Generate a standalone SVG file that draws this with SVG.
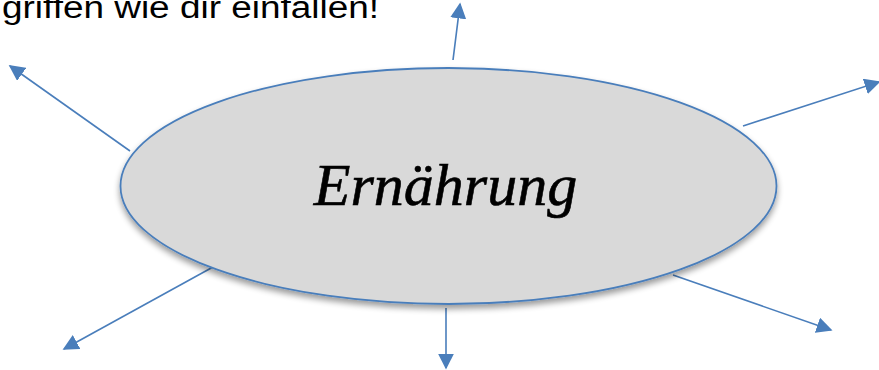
<svg xmlns="http://www.w3.org/2000/svg" width="879" height="370" viewBox="0 0 879 370">
<defs>
<style>
.c{stroke:#4a7ebb;stroke-width:1.6;fill:none;marker-end:url(#ah)}
</style>
<marker id="ah" viewBox="0 0 10 10" refX="9" refY="5" markerWidth="10" markerHeight="10" orient="auto"><path d="M0,0 L10,5 L0,10 z" fill="#4a7ebb"/></marker>
<filter id="sh" x="-10%" y="-10%" width="120%" height="130%">
<feGaussianBlur in="SourceAlpha" stdDeviation="3"/>
<feOffset dx="0" dy="4"/>
<feComponentTransfer><feFuncA type="linear" slope="0.4"/></feComponentTransfer>
<feMerge><feMergeNode/><feMergeNode in="SourceGraphic"/></feMerge>
</filter>
</defs>
<text x="2" y="17.5" font-family="Liberation Sans, Arial, sans-serif" font-size="31" textLength="377" lengthAdjust="spacingAndGlyphs" fill="#000">griffen wie dir einfallen!</text>
<g id="connectors">
<line class="c" x1="453" y1="60" x2="460" y2="4"/>
<line class="c" x1="130" y1="151" x2="10" y2="66"/>
<line class="c" x1="743" y1="126" x2="879" y2="82"/>
<line class="c" x1="213" y1="267" x2="64" y2="349"/>
<line class="c" x1="446" y1="308" x2="446" y2="368"/>
<line class="c" x1="673" y1="275" x2="831" y2="330"/>
</g>
<g id="ernaehrung">
<ellipse cx="448.5" cy="186" rx="328" ry="118" fill="#d9d9d9" stroke="#4a7ebb" stroke-width="1.8" filter="url(#sh)"/>
<text x="445.5" y="205" text-anchor="middle" font-family="Liberation Serif, 'Times New Roman', serif" font-style="italic" font-size="60" stroke="#000" stroke-width="0.6" fill="#000">Ernährung</text>
</g>
</svg>
